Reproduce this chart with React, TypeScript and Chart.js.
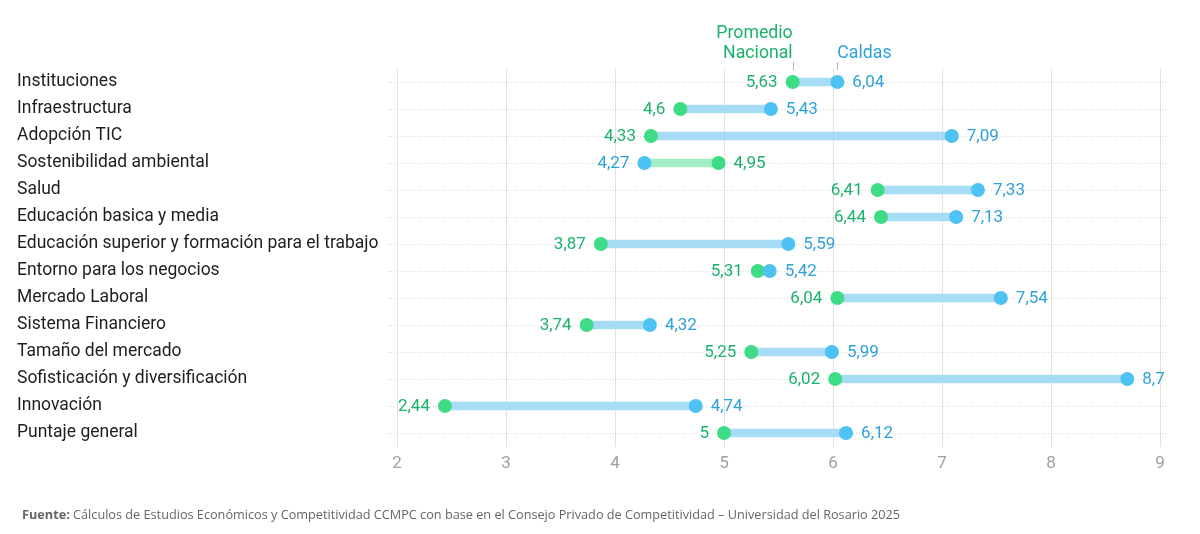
import React, { useEffect, useRef } from "react";
import { Chart, registerables } from "chart.js";

Chart.register(...registerables);

const categories = [
  "Instituciones",
  "Infraestructura",
  "Adopción TIC",
  "Sostenibilidad ambiental",
  "Salud",
  "Educación basica y media",
  "Educación superior y formación para el trabajo",
  "Entorno para los negocios",
  "Mercado Laboral",
  "Sistema Financiero",
  "Tamaño del mercado",
  "Sofisticación y diversificación",
  "Innovación",
  "Puntaje general",
];

const promedioNacional = [5.63, 4.6, 4.33, 4.95, 6.41, 6.44, 3.87, 5.31, 6.04, 3.74, 5.25, 6.02, 2.44, 5];
const caldas = [6.04, 5.43, 7.09, 4.27, 7.33, 7.13, 5.59, 5.42, 7.54, 4.32, 5.99, 8.7, 4.74, 6.12];

const xTicks = [2, 3, 4, 5, 6, 7, 8, 9];

const GREEN_DOT = "#3edc86";
const GREEN_TEXT = "#1db26c";
const GREEN_BAR = "#a3efc4";
const BLUE_DOT = "#4fc2f4";
const BLUE_TEXT = "#2ea2d8";
const BLUE_BAR = "#a7dcf7";

const fmt = (v: number) => String(v).replace(".", ",");

const annotations = {
  id: "annotations",
  beforeDatasetsDraw(chart: any) {
    const { ctx, chartArea } = chart;
    const yScale = chart.scales.y;
    ctx.save();
    ctx.strokeStyle = "#d6d6d6";
    ctx.lineWidth = 1;
    ctx.setLineDash([1, 2]);
    categories.forEach((_, i) => {
      const y = Math.round(yScale.getPixelForValue(i)) + 0.5;
      ctx.beginPath();
      ctx.moveTo(chartArea.left - 9, y);
      ctx.lineTo(chartArea.right + 6, y);
      ctx.stroke();
    });
    ctx.restore();
  },
  afterDatasetsDraw(chart: any) {
    const { ctx } = chart;
    const xScale = chart.scales.x;
    const yScale = chart.scales.y;
    ctx.save();
    ctx.font = "17px Roboto";
    ctx.textBaseline = "middle";
    categories.forEach((_, i) => {
      const n = promedioNacional[i];
      const c = caldas[i];
      const y = yScale.getPixelForValue(i) + 1;
      const nLeft = n <= c;
      const leftVal = nLeft ? n : c;
      const rightVal = nLeft ? c : n;
      ctx.textAlign = "right";
      ctx.fillStyle = nLeft ? GREEN_TEXT : BLUE_TEXT;
      ctx.fillText(fmt(leftVal), xScale.getPixelForValue(leftVal) - 15, y);
      ctx.textAlign = "left";
      ctx.fillStyle = nLeft ? BLUE_TEXT : GREEN_TEXT;
      ctx.fillText(fmt(rightVal), xScale.getPixelForValue(rightVal) + 15, y);
    });

    // series labels above the first row
    const xn = xScale.getPixelForValue(promedioNacional[0]);
    const xc = xScale.getPixelForValue(caldas[0]);
    ctx.font = "17.7px Roboto";
    ctx.textBaseline = "alphabetic";
    ctx.fillStyle = GREEN_TEXT;
    ctx.textAlign = "right";
    ctx.fillText("Promedio", xn, 38);
    ctx.fillText("Nacional", xn, 58);
    ctx.fillStyle = BLUE_TEXT;
    ctx.textAlign = "left";
    ctx.fillText("Caldas", xc, 58);
    ctx.strokeStyle = "#b5b5b5";
    ctx.lineWidth = 1;
    [xn, xc].forEach((x) => {
      const px = Math.round(x) + 0.5;
      ctx.beginPath();
      ctx.moveTo(px, 62);
      ctx.lineTo(px, 70);
      ctx.stroke();
    });

    // source note
    ctx.textAlign = "left";
    ctx.fillStyle = "#666666";
    ctx.font = "bold 12.7px 'Open Sans'";
    const bold = "Fuente:";
    ctx.fillText(bold, 22, 519);
    const w = ctx.measureText(bold).width;
    ctx.font = "12.7px 'Open Sans'";
    ctx.fillText(
      " Cálculos de Estudios Económicos y Competitividad CCMPC con base en el Consejo Privado de Competitividad – Universidad del Rosario 2025",
      22 + w,
      519
    );
    ctx.restore();
  },
};

export default function App() {
  const canvasRef = useRef<HTMLCanvasElement | null>(null);

  useEffect(() => {
    document.body.style.margin = "0";
    const ctx = canvasRef.current!.getContext("2d")!;
    const ranges = categories.map((_, i) => [
      Math.min(promedioNacional[i], caldas[i]),
      Math.max(promedioNacional[i], caldas[i]),
    ]);
    const barColors = categories.map((_, i) =>
      caldas[i] >= promedioNacional[i] ? BLUE_BAR : GREEN_BAR
    );
    const chart = new Chart(ctx, {
      type: "bar",
      data: {
        labels: categories,
        datasets: [
          {
            type: "bar",
            label: "Brecha",
            data: ranges as any,
            backgroundColor: barColors,
            barThickness: 8,
            indexAxis: "y",
            order: 3,
          } as any,
          {
            type: "line",
            label: "Promedio Nacional",
            data: promedioNacional,
            showLine: false,
            pointRadius: 7,
            pointBorderWidth: 0,
            pointBackgroundColor: GREEN_DOT,
            indexAxis: "y",
            order: 2,
          } as any,
          {
            type: "line",
            label: "Caldas",
            data: caldas,
            showLine: false,
            pointRadius: 7,
            pointBorderWidth: 0,
            pointBackgroundColor: BLUE_DOT,
            indexAxis: "y",
            order: 1,
          } as any,
        ],
      },
      options: {
        indexAxis: "y",
        animation: false,
        responsive: true,
        maintainAspectRatio: false,
        layout: { padding: { left: 17, right: 40, top: 68.5, bottom: 57.5 } },
        plugins: { legend: { display: false }, tooltip: { enabled: false } },
        scales: {
          x: {
            type: "linear",
            min: 2,
            max: 9,
            afterBuildTicks: (scale: any) => {
              scale.ticks = xTicks.map((v) => ({ value: v }));
            },
            afterFit: (scale: any) => {
              scale.height = 30;
            },
            grid: { color: "#e2e2e2", lineWidth: 1, drawTicks: false },
            border: { display: false },
            ticks: {
              color: "#a0a0a0",
              font: { family: "Roboto", size: 17 },
              padding: 7,
              callback: (v: any) => String(v),
            },
          },
          y: {
            type: "category",
            offset: true,
            afterFit: (scale: any) => {
              scale.width = 380;
            },
            grid: { display: false, drawTicks: false },
            border: { display: false },
            ticks: {
              color: "#1e1e1e",
              font: { family: "Roboto", size: 17.5 },
              crossAlign: "far",
              padding: 0,
              autoSkip: false,
            },
          },
        } as any,
      },
      plugins: [annotations],
    });
    return () => chart.destroy();
  }, []);

  return (
    <div style={{ position: "fixed", left: 0, top: 0, width: 1200, height: 534, background: "#fff" }}>
      <canvas ref={canvasRef} />
    </div>
  );
}
